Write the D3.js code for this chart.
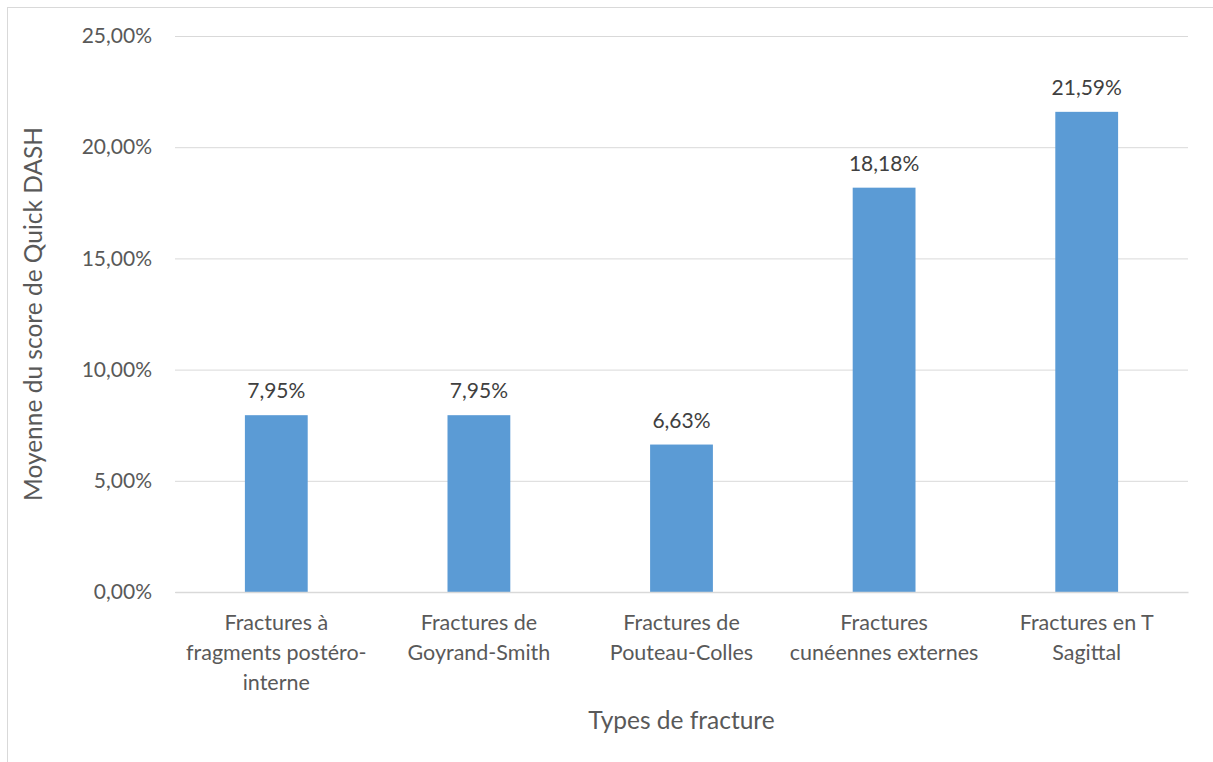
<!DOCTYPE html>
<html lang="fr">
<head>
<meta charset="UTF-8">
<title>Quick DASH</title>
<script src="https://d3js.org/d3.v7.min.js"></script>
<style>
  body { margin: 0; background: #fff; }
  text { font-family: Lato, "Open Sans", sans-serif; }
</style>
</head>
<body>
<div id="chart"></div>
<script>
// data
var categories = [
  "Fractures à\nfragments postéro-\ninterne",
  "Fractures de\nGoyrand-Smith",
  "Fractures de\nPouteau-Colles",
  "Fractures\ncunéennes externes",
  "Fractures en T\nSagittal"
];
var values = [7.95, 7.95, 6.63, 18.18, 21.59];
var yTicks = [0, 5, 10, 15, 20, 25];

var width = 1213, height = 762;
var margin = { top: 36, right: 25, bottom: 170, left: 175 };

var svg = d3.select("#chart").append("svg")
  .attr("width", width)
  .attr("height", height);

// chart frame (only left and top edges are visible)
svg.append("rect")
  .attr("x", 7.5).attr("y", 7.5)
  .attr("width", width).attr("height", height)
  .attr("fill", "none")
  .attr("stroke", "#d9d9d9");

var x = d3.scaleBand()
  .domain(categories)
  .range([margin.left, width - margin.right])
  .paddingInner(0.69)
  .paddingOuter(0.345);

var y = d3.scaleLinear()
  .domain([0, 25])
  .range([height - margin.bottom, margin.top]);

var fmt = function (v) { return d3.format(".2f")(v).replace(".", ",") + "%"; };

// grid + y labels
var yAxis = svg.append("g")
  .attr("transform", "translate(" + margin.left + ",0)")
  .call(d3.axisLeft(y).tickValues(yTicks)
    .tickSize(-(width - margin.left - margin.right))
    .tickPadding(23)
    .tickFormat(fmt));
yAxis.select(".domain").remove();
yAxis.selectAll(".tick line").attr("stroke", "#d9d9d9");
yAxis.selectAll(".tick text")
  .attr("fill", "#595959")
  .style("font-size", "21px");

// bars
svg.append("g").selectAll("rect")
  .data(values)
  .enter().append("rect")
    .attr("x", function (d, i) { return x(categories[i]); })
    .attr("y", function (d) { return y(d); })
    .attr("width", x.bandwidth())
    .attr("height", function (d) { return y(0) - y(d); })
    .attr("fill", "#5b9bd5");

// data labels
svg.append("g").selectAll("text")
  .data(values)
  .enter().append("text")
    .attr("x", function (d, i) { return x(categories[i]) + x.bandwidth() / 2; })
    .attr("y", function (d) { return y(d) - 17; })
    .attr("text-anchor", "middle")
    .attr("fill", "#404040")
    .style("font-size", "21px")
    .text(fmt);

// x axis
var xAxis = svg.append("g")
  .attr("transform", "translate(0," + y(0) + ")")
  .call(d3.axisBottom(x).tickSize(0).tickFormat(""));
xAxis.select(".domain").attr("stroke", "#d9d9d9").attr("stroke-width", 1.5);

xAxis.selectAll(".tick").each(function (c) {
  var t = d3.select(this).append("text")
    .attr("text-anchor", "middle")
    .attr("fill", "#595959")
    .style("font-size", "21.5px");
  c.split("\n").forEach(function (line, k) {
    t.append("tspan").attr("x", 0).attr("y", 38 + k * 30).text(line);
  });
});

// axis titles
svg.append("text")
  .attr("x", (margin.left + width - margin.right) / 2)
  .attr("y", 729)
  .attr("text-anchor", "middle")
  .attr("fill", "#595959")
  .style("font-size", "24.5px")
  .text("Types de fracture");

svg.append("text")
  .attr("transform", "translate(42," + (margin.top + (height - margin.bottom)) / 2 + ") rotate(-90)")
  .attr("text-anchor", "middle")
  .attr("fill", "#595959")
  .style("font-size", "24.5px")
  .text("Moyenne du score de Quick DASH");
</script>
</body>
</html>
